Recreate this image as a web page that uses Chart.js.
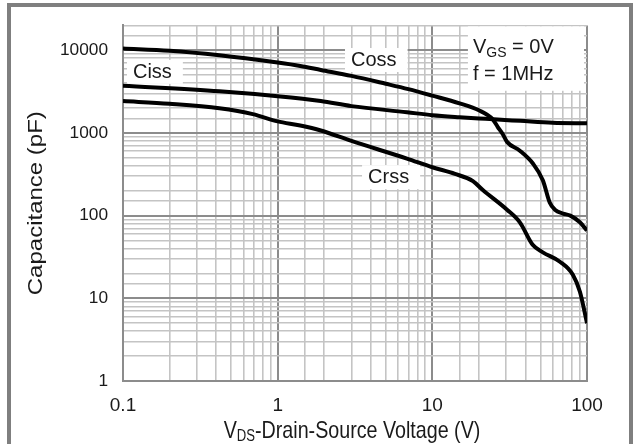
<!DOCTYPE html>
<html>
<head>
<meta charset="utf-8">
<script src="https://cdn.jsdelivr.net/npm/chart.js@4.4.1/dist/chart.umd.min.js"></script>
<style>
  body { margin: 0; background: #fff; }
  #wrap { position: relative; width: 634px; height: 444px; overflow: hidden; }
  #frame { position: absolute; left: 7px; top: 3px; width: 618px; height: 470px; border: 4px solid #7f7f7f; pointer-events: none; }
</style>
</head>
<body>
<div id="wrap">
  <canvas id="chart" width="634" height="444"></canvas>
  <div id="frame"></div>
</div>
<script>
// capacitance vs drain-source voltage
const cossV = [0.1, 0.2, 0.42, 1, 1.4, 1.9, 3, 5, 7, 10, 15, 20, 24.5, 26.5, 28.5, 30.4, 36.8, 44.7, 51.8, 57.5, 62, 70, 78, 90, 100];
const cossC = [10500, 9900, 8720, 7100, 6460, 5780, 4900, 3940, 3390, 2830, 2280, 1880, 1470, 1180, 970, 780, 610, 427, 268, 143, 118, 106, 100, 83, 66];

const cissV = [0.1, 0.42, 1, 1.9, 3, 6.85, 10, 15, 20, 25, 37, 60, 100];
const cissC = [3730, 3190, 2780, 2430, 2110, 1780, 1640, 1550, 1500, 1460, 1400, 1330, 1310];

const crssV = [0.1, 0.2, 0.42, 0.69, 1, 1.4, 1.9, 3, 6.85, 10, 14, 18.3, 21.2, 30.4, 36.8, 44.7, 51.8, 66.8, 81, 90, 100];
const crssC = [2430, 2250, 1985, 1690, 1380, 1230, 1070, 800, 490, 385, 320, 261, 204, 118, 83, 44, 36, 27.7, 19.3, 12, 5];

const xTicks = [0.1, 1, 10, 100];
const yTicks = [1, 10, 100, 1000, 10000];

const FONT = '"Liberation Sans", Arial, sans-serif';
const TEXT = '#1a1a1a';
const SQUEEZE = 0.82; // axis titles are narrow in the original

const isMajor = v => Math.abs(Math.log10(v) - Math.round(Math.log10(v))) < 1e-6;
const tickLabel = list => v => {
  const t = list.find(t => Math.abs(t - v) / t < 1e-6);
  return t === undefined ? '' : String(t);
};
const pts = (xs, ys) => xs.map((v, i) => ({x: v, y: ys[i]}));

const line = (label, xs, ys) => ({
  label: label,
  data: pts(xs, ys),
  borderColor: '#000',
  borderWidth: 4,
  pointRadius: 0,
  fill: false,
  cubicInterpolationMode: 'monotone'
});

const gridOpts = () => ({
  color: c => isMajor(c.tick.value) ? '#8c8c8c' : '#c4c4c4',
  lineWidth: c => isMajor(c.tick.value) ? 2 : 1.6,
  drawTicks: false,
  tickLength: 0
});

const notes = {
  id: 'notes',
  beforeDatasetsDraw(chart) {
    const {ctx, chartArea, scales: {x, y}} = chart;
    ctx.save();
    ctx.font = '20px ' + FONT;
    ctx.textBaseline = 'alphabetic';
    const label = (txt, vx, vy) => {
      const px = x.getPixelForValue(vx), py = y.getPixelForValue(vy);
      const w = ctx.measureText(txt).width;
      ctx.fillStyle = '#fff';
      ctx.fillRect(px - 6, py - 18, w + 17, 24);
      ctx.fillStyle = TEXT;
      ctx.fillText(txt, px, py);
    };
    label('Ciss', 0.116, 4640);
    label('Coss', 2.98, 6450);
    label('Crss', 3.84, 247);

    // test conditions box
    const lx = x.getPixelForValue(18.3);
    const b1 = y.getPixelForValue(9200), b2 = y.getPixelForValue(4395);
    ctx.fillStyle = '#fff';
    ctx.fillRect(lx - 5, chartArea.top + 1, chartArea.right - 3 - (lx - 5), b2 + 10 - chartArea.top);
    ctx.fillStyle = TEXT;
    ctx.fillText('V', lx, b1);
    let cx = lx + ctx.measureText('V').width;
    ctx.font = '14px ' + FONT;
    ctx.fillText('GS', cx, b1 + 4);
    cx += ctx.measureText('GS').width;
    ctx.font = '20px ' + FONT;
    ctx.fillText(' = 0V', cx, b1);
    ctx.fillText('f = 1MHz', lx, b2);
    ctx.restore();
  },
  afterDraw(chart) {
    const {ctx, chartArea} = chart;
    const big = '24px ' + FONT, small = '16px ' + FONT;
    ctx.save();
    ctx.fillStyle = TEXT;

    // x axis title with subscript
    const rest = '-Drain-Source Voltage (V)';
    ctx.font = big;
    const wV = ctx.measureText('V').width, wR = ctx.measureText(rest).width;
    ctx.font = small;
    const wS = ctx.measureText('DS').width;
    const total = (wV + wS + wR) * SQUEEZE;
    const mid = (chartArea.left + chartArea.right) / 2 - 3;
    ctx.save();
    ctx.translate(mid - total / 2, 438);
    ctx.scale(SQUEEZE, 1);
    ctx.textBaseline = 'alphabetic';
    ctx.font = big;
    ctx.fillText('V', 0, 0);
    ctx.font = small;
    ctx.fillText('DS', wV, 3);
    ctx.font = big;
    ctx.fillText(rest, wV + wS, 0);
    ctx.restore();

    // y axis title
    ctx.save();
    ctx.translate(37, (chartArea.top + chartArea.bottom) / 2);
    ctx.rotate(-Math.PI / 2);
    ctx.scale(1, SQUEEZE);
    ctx.font = big;
    ctx.textAlign = 'center';
    ctx.textBaseline = 'middle';
    ctx.fillText('Capacitance (pF)', 0, 0);
    ctx.restore();

    ctx.restore();
  }
};

const ctx = document.getElementById('chart').getContext('2d');
new Chart(ctx, {
  type: 'line',
  data: {
    datasets: [
      line('Coss', cossV, cossC),
      line('Ciss', cissV, cissC),
      line('Crss', crssV, crssC)
    ]
  },
  options: {
    responsive: false,
    animation: false,
    layout: { padding: { top: 20, right: 47, bottom: 0, left: 0 } },
    plugins: {
      legend: { display: false },
      tooltip: { enabled: false }
    },
    scales: {
      x: {
        type: 'logarithmic',
        min: 0.1,
        max: 100,
        grid: gridOpts(),
        border: { color: '#8c8c8c', width: 2 },
        ticks: {
          autoSkip: false,
          maxRotation: 0,
          padding: 13,
          color: TEXT,
          font: { family: FONT, size: 19 },
          callback: tickLabel(xTicks)
        },
        afterFit: s => { s.height = 63; }
      },
      y: {
        type: 'logarithmic',
        min: 1,
        max: 20000,
        grid: gridOpts(),
        border: { color: '#8c8c8c', width: 2 },
        ticks: {
          autoSkip: false,
          padding: 15,
          color: TEXT,
          font: { family: FONT, size: 17.3 },
          callback: tickLabel(yTicks)
        },
        afterFit: s => { s.width = 123; }
      }
    }
  },
  plugins: [notes]
});
</script>
</body>
</html>
